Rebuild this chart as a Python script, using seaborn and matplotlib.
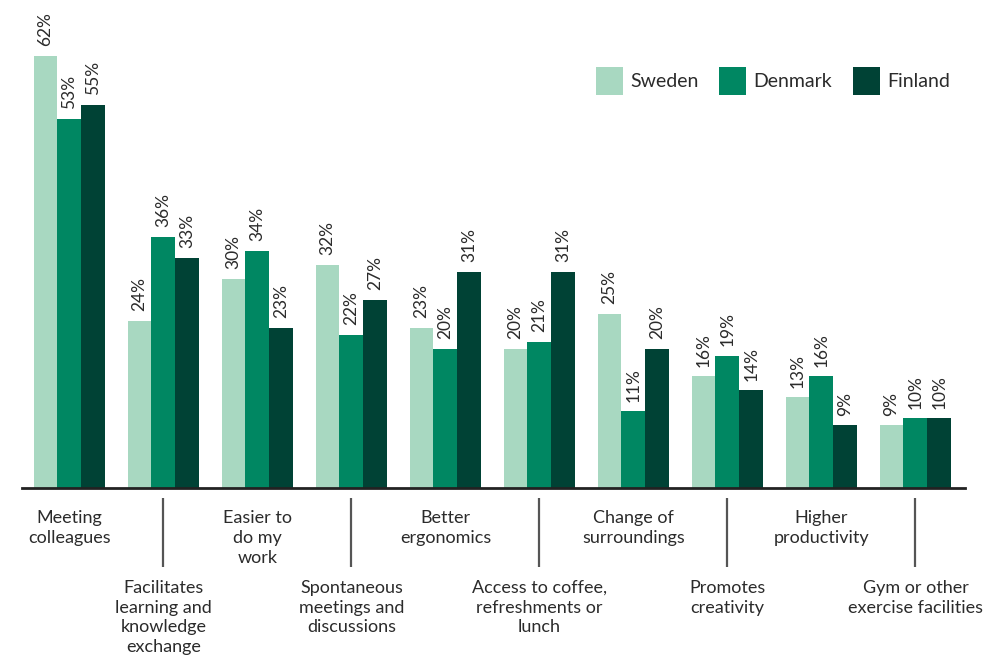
import matplotlib
matplotlib.use("Agg")
import matplotlib.pyplot as plt
from matplotlib.patches import Patch
import seaborn as sns
import pandas as pd

categories = [
    "Meeting\ncolleagues",
    "Facilitates\nlearning and\nknowledge\nexchange",
    "Easier to\ndo my\nwork",
    "Spontaneous\nmeetings and\ndiscussions",
    "Better\nergonomics",
    "Access to coffee,\nrefreshments or\nlunch",
    "Change of\nsurroundings",
    "Promotes\ncreativity",
    "Higher\nproductivity",
    "Gym or other\nexercise facilities",
]
countries = ["Sweden", "Denmark", "Finland"]
sweden = [62, 24, 30, 32, 23, 20, 25, 16, 13, 9]
denmark = [53, 36, 34, 22, 20, 21, 11, 19, 16, 10]
finland = [55, 33, 23, 27, 31, 31, 20, 14, 9, 10]
colors = ["#a8d8c1", "#008762", "#004235"]

rows = []
for country, vals in zip(countries, [sweden, denmark, finland]):
    for cat, v in zip(categories, vals):
        rows.append({"category": cat, "country": country, "value": v})
df = pd.DataFrame(rows)

sns.set_style("white")
plt.rcParams["font.family"] = ["Lato", "DejaVu Sans"]
text_color = "#2b2b2b"

W, H = 998, 655
fig = plt.figure(figsize=(W / 100, H / 100), dpi=100)
ax = fig.add_axes([22 / W, (H - 488) / H, (965 - 22) / W, (488 - 14) / H])

sns.barplot(data=df, x="category", y="value", hue="country", order=categories,
            hue_order=countries, palette=colors, saturation=1, width=0.765,
            gap=0, legend=False, ax=ax, errorbar=None, linewidth=0,
            edgecolor="none")

ax.set_xlim(-0.505, 9.527)
ax.set_ylim(0, 68)

for container in ax.containers:
    vals = [int(round(b.get_height())) for b in container]
    ax.bar_label(container, labels=[f"{v}%" for v in vals], rotation=90,
                 padding=7, fontsize=12.5, color=text_color, clip_on=False)

ax.set_xticks([])
ax.set_yticks([])
ax.set_xlabel("")
ax.set_ylabel("")
for side in ["top", "right", "left"]:
    ax.spines[side].set_visible(False)
ax.spines["bottom"].set_linewidth(2)
ax.spines["bottom"].set_color("#222222")

# Category labels in two staggered rows, lower row marked with a divider
label_kw = dict(xycoords=("data", "axes fraction"), textcoords="offset points",
                ha="center", va="top", multialignment="center", fontsize=13,
                linespacing=1.3, color=text_color, annotation_clip=False)
for i, cat in enumerate(categories):
    if i % 2 == 0:
        ax.annotate(cat, xy=(i, 0), xytext=(0, -16), **label_kw)
    else:
        ax.annotate(cat, xy=(i, 0), xytext=(0, -66), **label_kw)
        ax.plot([i, i], [-10 / 474 * 68, -79 / 474 * 68],
                color="#555555", lw=1.6, clip_on=False, solid_capstyle="butt")

handles = [Patch(facecolor=c, edgecolor="none") for c in colors]
fig.legend(handles, countries, loc="center right",
           bbox_to_anchor=(950 / W, 1 - 81 / H), ncol=3, frameon=False,
           fontsize=14, handlelength=1.39, handleheight=1.8,
           handletextpad=0.36, columnspacing=1.08, borderpad=0,
           borderaxespad=0, labelcolor=text_color)

fig.savefig("out.png", dpi=100)
